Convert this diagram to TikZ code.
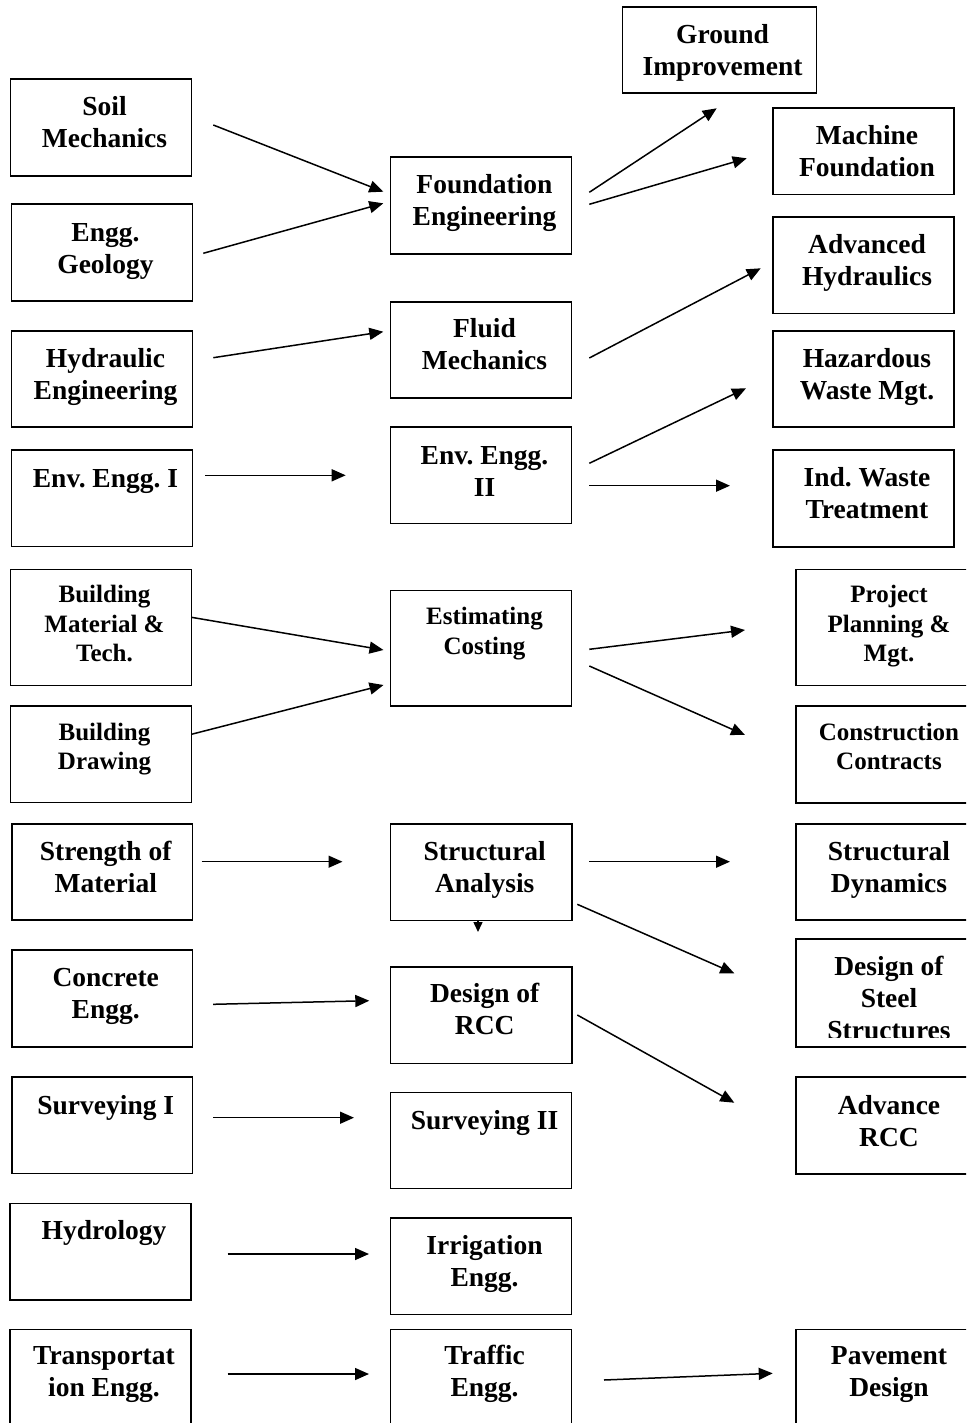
\documentclass[tikz,border=0pt]{standalone}
\usepackage{fontspec}
\setmainfont{Liberation Serif}
\frenchspacing
\usetikzlibrary{arrows.meta,calc,fit}
\begin{document}
\begin{tikzpicture}[x=1pt,y=-1pt,
  box/.style={draw, line width=1.8pt, inner sep=0pt},
  txt/.style={anchor=base, align=flush center, text width=#1, inner sep=0pt,
    font=\frenchspacing\bfseries\fontsize{27.5pt}{32pt}\selectfont},
  txt/.default=181pt,
  stxt/.style={anchor=base, align=flush center, text width=#1, inner sep=0pt,
    font=\frenchspacing\bfseries\fontsize{25pt}{29.5pt}\selectfont},
  stxt/.default=181pt,
  arr/.style={line width=1.5pt, -{Triangle[length=14pt,width=12pt]}},
  sarr/.style={line width=1.5pt, -{Triangle[length=10pt,width=9pt]}}
]
\useasboundingbox (0,0) rectangle (966,1423);
\fill[white] (0,0) rectangle (966,1423);
\clip (0,0) rectangle (966,1423);

% ---------- boxes ----------
\node[box, fit={(622.5,7) (816.5,93)}] (gi) {};
\node[txt=194pt] (gi-t) at ($(gi.north)+(3,37)$) {Ground\\Improvement};

\node[box, fit={(10.5,79) (191.5,176)}] (soil) {};
\node[txt] (soil-t) at ($(soil.north)+(3.5,37)$) {Soil\\Mechanics};

\node[box, fit={(773,108) (954,194.5)}] (mf) {};
\node[txt] (mf-t) at ($(mf.north)+(3.5,37)$) {Machine\\Foundation};

\node[box, fit={(390.5,157) (571.5,254)}] (found) {};
\node[txt] (found-t) at ($(found.north)+(3.5,37)$) {Foundation\\Engineering};

\node[box, fit={(11.5,204) (192.5,301)}] (geo) {};
\node[txt] (geo-t) at ($(geo.north)+(3.5,38)$) {Engg.\\Geology};

\node[box, fit={(773,217) (954,313.5)}] (ah) {};
\node[txt] (ah-t) at ($(ah.north)+(3.5,37)$) {Advanced\\Hydraulics};

\node[box, fit={(390.5,302) (571.5,398)}] (fluid) {};
\node[txt] (fluid-t) at ($(fluid.north)+(3.5,36)$) {Fluid\\Mechanics};

\node[box, fit={(11.5,331) (192.5,427)}] (hyd) {};
\node[txt] (hyd-t) at ($(hyd.north)+(3.5,37)$) {Hydraulic\\Engineering};

\node[box, fit={(773,331) (954,427)}] (hw) {};
\node[txt] (hw-t) at ($(hw.north)+(3.5,37)$) {Hazardous\\Waste Mgt.};

\node[box, fit={(11.5,450) (192.5,546.5)}] (env1) {};
\node[txt] (env1-t) at ($(env1.north)+(3.5,38)$) {Env. Engg. I};

\node[box, fit={(390.5,427) (571.5,523.5)}] (env2) {};
\node[txt] (env2-t) at ($(env2.north)+(3.5,38)$) {Env. Engg.\\II};

\node[box, fit={(773,450) (954,547)}] (iw) {};
\node[txt] (iw-t) at ($(iw.north)+(3.5,37)$) {Ind. Waste\\Treatment};

\node[box, fit={(10.5,569.5) (191.5,685.5)}] (bm) {};
\node[stxt] (bm-t) at ($(bm.north)+(3.5,34)$) {Building\\Material \&\\Tech.};

\node[box, fit={(796,569.5) (982,685.5)}] (pp) {};
\node[stxt=186pt] (pp-t) at ($(pp.north)+(0,34)$) {Project\\Planning \&\\Mgt.};

\node[box, fit={(390.5,590.5) (571.5,706)}] (est) {};
\node[stxt] (est-t) at ($(est.north)+(3.5,35)$) {Estimating\\Costing};

\node[box, fit={(10.5,706) (191.5,802.5)}] (bd) {};
\node[stxt] (bd-t) at ($(bd.north)+(3.5,35)$) {Building\\Drawing};

\node[box, fit={(796,706) (982,803)}] (cc) {};
\node[stxt=186pt] (cc-t) at ($(cc.north)+(0,35)$) {Construction\\Contracts};

\node[box, fit={(12,824) (192.5,920)}] (som) {};
\node[txt] (som-t) at ($(som.north)+(3.5,37)$) {Strength of\\Material};

\node[box, fit={(390.5,824) (572,920.5)}] (sa) {};
\node[txt] (sa-t) at ($(sa.north)+(3.5,37)$) {Structural\\Analysis};

\node[box, fit={(796,824) (982,920)}] (sd) {};
\node[txt=186pt] (sd-t) at ($(sd.north)+(0,37)$) {Structural\\Dynamics};

\node[box, fit={(796,939) (982,1047)}] (steel) {};
\begin{scope}
  \clip (796,939) rectangle (982,1037);
  \node[txt=186pt] (steel-t) at ($(steel.north)+(0,37)$) {Design of\\Steel\\Structures};
\end{scope}

\node[box, fit={(12,950) (192.5,1047)}] (conc) {};
\node[txt] (conc-t) at ($(conc.north)+(3.5,37)$) {Concrete\\Engg.};

\node[box, fit={(390.5,967) (572,1063.5)}] (rcc) {};
\node[txt] (rcc-t) at ($(rcc.north)+(3.5,36)$) {Design of\\RCC};

\node[box, fit={(12,1077) (192.5,1173.5)}] (surv1) {};
\node[txt] (surv1-t) at ($(surv1.north)+(3.5,38)$) {Surveying I};

\node[box, fit={(796,1077) (982,1174)}] (arcc) {};
\node[txt=186pt] (arcc-t) at ($(arcc.north)+(0,38)$) {Advance\\RCC};

\node[box, fit={(390.5,1092.5) (571.5,1188.5)}] (surv2) {};
\node[txt] (surv2-t) at ($(surv2.north)+(3.5,38)$) {Surveying II};

\node[box, fit={(10,1203.5) (191,1300)}] (hydro) {};
\node[txt] (hydro-t) at ($(hydro.north)+(3.5,37)$) {Hydrology};

\node[box, fit={(390.5,1218) (571.5,1314.5)}] (irr) {};
\node[txt] (irr-t) at ($(irr.north)+(3.5,37)$) {Irrigation\\Engg.};

\node[box, fit={(10,1329.5) (191,1440)}] (trans) {};
\node[txt] (trans-t) at ($(trans.north)+(3.5,36)$) {Transportat\\ion Engg.};

\node[box, fit={(390.5,1329.5) (571.5,1440)}] (traffic) {};
\node[txt] (traffic-t) at ($(traffic.north)+(3.5,36)$) {Traffic\\Engg.};

\node[box, fit={(796,1329.5) (982,1440)}] (pave) {};
\node[txt=186pt] (pave-t) at ($(pave.north)+(0,36)$) {Pavement\\Design};

% ---------- connector ends ----------
\coordinate (soil-o) at (213.3,125);     \coordinate (found-i1) at (383.3,191.7);
\coordinate (geo-o) at (203.3,253.3);    \coordinate (found-i2) at (383.3,203.3);
\coordinate (found-o1) at (589.3,192.3); \coordinate (gi-i) at (716.7,108.3);
\coordinate (found-o2) at (589.3,204.3); \coordinate (mf-i) at (746.7,158.3);
\coordinate (hyd-o) at (213.3,357.7);    \coordinate (fluid-i) at (383.3,331.7);
\coordinate (fluid-o) at (589.3,358);    \coordinate (ah-i) at (760.7,268.3);
\coordinate (env1-o) at (205,475.3);     \coordinate (env2-i) at (345.7,475.3);
\coordinate (env2-o1) at (589.3,463.3);  \coordinate (hw-i) at (746,388.3);
\coordinate (env2-o2) at (589.3,485.7);  \coordinate (iw-i) at (730,485.7);
\coordinate (bm-o) at (191.4,617.3);     \coordinate (est-i1) at (383.5,650);
\coordinate (bd-o) at (191.4,734.3);     \coordinate (est-i2) at (383.5,685);
\coordinate (est-o1) at (589.3,649.3);   \coordinate (pp-i) at (745,630);
\coordinate (est-o2) at (589.3,666);     \coordinate (cc-i) at (745,735);
\coordinate (som-o) at (201.7,861.7);    \coordinate (sa-i) at (342.5,861.7);
\coordinate (sa-o1) at (589.3,861.7);    \coordinate (sd-i) at (730,861.7);
\coordinate (sa-o2) at (577.3,904.3);    \coordinate (steel-i) at (734.3,973.3);
\coordinate (sa-tip) at (478,932);
\coordinate (conc-o) at (213.2,1004.3);  \coordinate (rcc-i) at (369.3,1000.7);
\coordinate (rcc-o) at (577.3,1015);     \coordinate (arcc-i) at (734.3,1102.7);
\coordinate (surv1-o) at (213.3,1117.7); \coordinate (surv2-i) at (354,1117.7);
\coordinate (hydro-o) at (227.7,1254);   \coordinate (irr-i) at (369,1254);
\coordinate (trans-o) at (227.7,1374);   \coordinate (traffic-i) at (369,1374);
\coordinate (traffic-o) at (604,1380);   \coordinate (pave-i) at (772.7,1373.3);

% ---------- connectors ----------
\draw[arr] (soil-o) -- (found-i1);
\draw[arr] (geo-o) -- (found-i2);
\draw[arr] (found-o1) -- (gi-i);
\draw[arr] (found-o2) -- (mf-i);
\draw[arr] (hyd-o) -- (fluid-i);
\draw[arr] (fluid-o) -- (ah-i);
\draw[arr] (env1-o) -- (env2-i);
\draw[arr] (env2-o1) -- (hw-i);
\draw[arr] (env2-o2) -- (iw-i);
\draw[arr] (bm-o) -- (est-i1);
\draw[arr] (bd-o) -- (est-i2);
\draw[arr] (est-o1) -- (pp-i);
\draw[arr] (est-o2) -- (cc-i);
\draw[arr] (som-o) -- (sa-i);
\draw[arr] (sa-o1) -- (sd-i);
\draw[arr] (sa-o2) -- (steel-i);
\draw[sarr] (sa-tip |- sa.south) -- (sa-tip);
\draw[arr] (conc-o) -- (rcc-i);
\draw[arr] (rcc-o) -- (arcc-i);
\draw[arr] (surv1-o) -- (surv2-i);
\draw[arr] (hydro-o) -- (irr-i);
\draw[arr] (trans-o) -- (traffic-i);
\draw[arr] (traffic-o) -- (pave-i);
\end{tikzpicture}
\end{document}
